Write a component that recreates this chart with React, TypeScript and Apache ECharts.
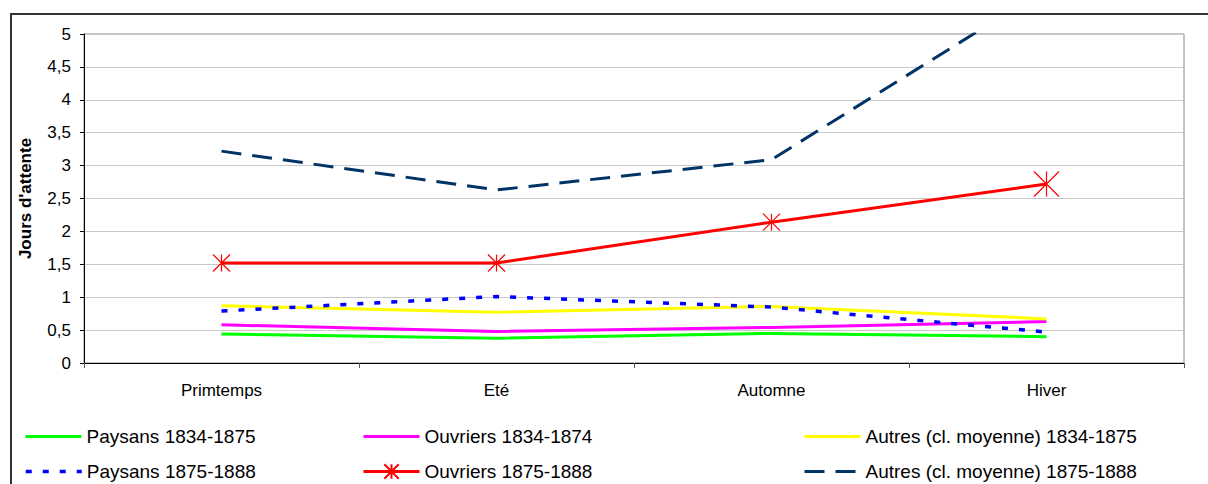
import React, { useEffect, useRef } from "react";
import * as echarts from "echarts";

const categories = ["Primtemps", "Eté", "Automne", "Hiver"];
const paysans1834 = [0.44, 0.375, 0.45, 0.4];
const ouvriers1834 = [0.58, 0.48, 0.54, 0.63];
const autres1834 = [0.87, 0.77, 0.86, 0.67];
const paysans1875 = [0.79, 1.01, 0.85, 0.47];
const ouvriers1875 = [1.52, 1.52, 2.14, 2.72];
const autres1875 = [3.22, 2.63, 3.09, 5.69];
const yTicks = { min: 0, max: 5, interval: 0.5 };

const FONT = "'Liberation Sans', Arial, sans-serif";
const STAR = "path://M0,0L16,16M0,16L16,0M8,0L8,16";

export default function App() {
  const ref = useRef<HTMLDivElement>(null);
  useEffect(() => {
    if (!ref.current) return;
    const chart = echarts.init(ref.current, undefined, { renderer: "svg" });
    const legendPos = [
      { name: "Paysans 1834-1875", left: 24, top: 427, marker: false, w: 3 },
      { name: "Ouvriers 1834-1874", left: 362, top: 427, marker: false, w: 3 },
      { name: "Autres (cl. moyenne) 1834-1875", left: 803, top: 427, marker: false, w: 3 },
      { name: "Paysans 1875-1888", left: 24, top: 462, marker: false, w: 3.5 },
      { name: "Ouvriers 1875-1888", left: 362, top: 462, marker: true, w: 3 },
      { name: "Autres (cl. moyenne) 1875-1888", left: 803, top: 462, marker: false, w: 3 },
    ];
    const hidden = "rgba(0,0,0,0)";
    chart.setOption({
      animation: false,
      backgroundColor: "#ffffff",
      textStyle: { fontFamily: FONT },
      graphic: [
        {
          type: "rect",
          shape: { x: 11, y: 14, width: 1400, height: 700 },
          style: { fill: "none", stroke: "#333333", lineWidth: 2 },
          silent: true,
        },
      ],
      legend: legendPos.map((l) => ({
        data: [l.name],
        left: l.left,
        top: l.top,
        itemWidth: 56,
        itemHeight: l.marker ? 18 : 14,
        itemGap: 0,
        padding: 0,
        textStyle: { fontSize: 19, color: "#000", fontFamily: FONT },
        selectedMode: false,
        lineStyle: { width: l.w },
        itemStyle: l.marker
          ? {}
          : { color: hidden, borderColor: hidden, borderWidth: 0, opacity: 0 },
      })),
      grid: {
        left: 84,
        top: 34,
        width: 1100,
        height: 329,
        show: true,
        borderColor: "#888888",
        borderWidth: 1,
      },
      xAxis: {
        type: "category",
        data: categories,
        boundaryGap: true,
        axisLine: { lineStyle: { color: "#000", width: 1 } },
        axisTick: { show: true, length: 5, lineStyle: { color: "#555" } },
        axisLabel: { fontSize: 17, color: "#000", margin: 19, fontFamily: FONT },
      },
      yAxis: {
        type: "value",
        min: yTicks.min,
        max: yTicks.max,
        interval: yTicks.interval,
        name: "Jours d'attente",
        nameLocation: "middle",
        nameRotate: 90,
        nameGap: 50,
        nameTextStyle: { fontSize: 17, fontWeight: "bold", color: "#000", fontFamily: FONT },
        axisLine: { show: true, lineStyle: { color: "#000", width: 1 } },
        axisTick: { show: true, length: 4, lineStyle: { color: "#000" } },
        axisLabel: {
          fontSize: 17,
          color: "#000",
          margin: 13,
          fontFamily: FONT,
          formatter: (v: number) => String(v).replace(".", ","),
        },
        splitLine: { lineStyle: { color: "#C8C8C8", width: 1 } },
      },
      series: [
        {
          name: "Paysans 1834-1875",
          type: "line",
          data: paysans1834,
          symbol: "none",
          lineStyle: { color: "#00FF00", width: 3 },
          itemStyle: { color: "#00FF00" },
        },
        {
          name: "Ouvriers 1834-1874",
          type: "line",
          data: ouvriers1834,
          symbol: "none",
          lineStyle: { color: "#FF00FF", width: 3 },
          itemStyle: { color: "#FF00FF" },
        },
        {
          name: "Autres (cl. moyenne) 1834-1875",
          type: "line",
          data: autres1834,
          symbol: "none",
          lineStyle: { color: "#FFFF00", width: 3 },
          itemStyle: { color: "#FFFF00" },
        },
        {
          name: "Paysans 1875-1888",
          type: "line",
          data: paysans1875,
          symbol: "none",
          lineStyle: { color: "#0000FF", width: 3.5, type: [6, 11] },
          itemStyle: { color: "#0000FF" },
        },
        {
          name: "Ouvriers 1875-1888",
          type: "line",
          data: ouvriers1875.map((v, i) =>
            i === ouvriers1875.length - 1 ? { value: v, symbolSize: 25 } : v
          ),
          symbol: STAR,
          symbolSize: 17,
          lineStyle: { color: "#FF0000", width: 3 },
          itemStyle: { color: "#FF0000", borderColor: "#FF0000", borderWidth: 1.2 },
        },
        {
          name: "Autres (cl. moyenne) 1875-1888",
          type: "line",
          data: autres1875,
          symbol: "none",
          lineStyle: { color: "#003366", width: 3, type: [20, 11] },
          itemStyle: { color: "#003366" },
        },
      ],
    });
    return () => chart.dispose();
  }, []);
  return (
    <div
      ref={ref}
      style={{ position: "absolute", left: 0, top: 0, width: 1208, height: 484 }}
    />
  );
}
